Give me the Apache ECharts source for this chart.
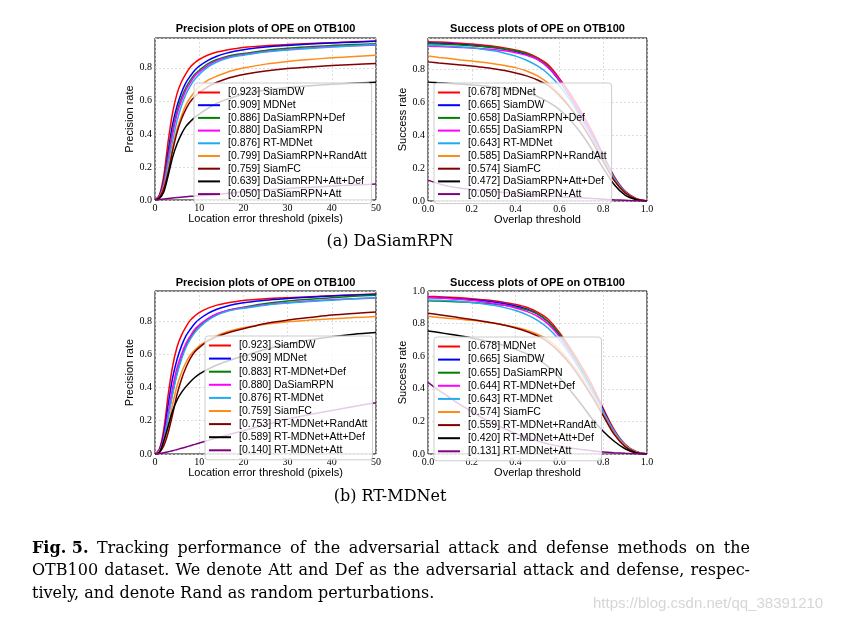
<!DOCTYPE html>
<html><head><meta charset="utf-8">
<script src="https://cdn.jsdelivr.net/npm/echarts@6/dist/echarts.min.js"></script>
<style>html,body{margin:0;padding:0;background:#fff}#c{width:848px;height:622px}</style>
</head><body><div id="c"></div>
<script>
// ---------------- DATA ----------------
// thresholds
const precThresholds = [0, 1, 2, 3, 4, 5, 6, 7, 8, 9, 10, 12, 14, 16, 18, 20, 25, 30, 35, 40, 45, 50];
const succThresholds = [0, 0.05, 0.1, 0.15, 0.2, 0.25, 0.3, 0.35, 0.4, 0.45, 0.5, 0.55, 0.6, 0.65, 0.7, 0.75, 0.8, 0.85, 0.9, 0.95, 1.0];

// legend names and scores
const precA_names = ['SiamDW', 'MDNet', 'DaSiamRPN+Def', 'DaSiamRPN', 'RT-MDNet', 'DaSiamRPN+RandAtt', 'SiamFC', 'DaSiamRPN+Att+Def', 'DaSiamRPN+Att'];
const precA_scores = [0.923, 0.909, 0.886, 0.880, 0.876, 0.799, 0.759, 0.639, 0.050];
const succA_names = ['MDNet', 'SiamDW', 'DaSiamRPN+Def', 'DaSiamRPN', 'RT-MDNet', 'DaSiamRPN+RandAtt', 'SiamFC', 'DaSiamRPN+Att+Def', 'DaSiamRPN+Att'];
const succA_scores = [0.678, 0.665, 0.658, 0.655, 0.643, 0.585, 0.574, 0.472, 0.050];
const precB_names = ['SiamDW', 'MDNet', 'RT-MDNet+Def', 'DaSiamRPN', 'RT-MDNet', 'SiamFC', 'RT-MDNet+RandAtt', 'RT-MDNet+Att+Def', 'RT-MDNet+Att'];
const precB_scores = [0.923, 0.909, 0.883, 0.880, 0.876, 0.759, 0.753, 0.589, 0.140];
const succB_names = ['MDNet', 'SiamDW', 'DaSiamRPN', 'RT-MDNet+Def', 'RT-MDNet', 'SiamFC', 'RT-MDNet+RandAtt', 'RT-MDNet+Att+Def', 'RT-MDNet+Att'];
const succB_scores = [0.678, 0.665, 0.655, 0.644, 0.643, 0.574, 0.559, 0.420, 0.131];

// precision curves (values at precThresholds)
const precSiamDW    = [0, 0.03, 0.15, 0.36, 0.53, 0.645, 0.715, 0.765, 0.805, 0.83, 0.85, 0.877, 0.895, 0.906, 0.915, 0.923, 0.933, 0.940, 0.946, 0.952, 0.957, 0.962];
const precMDNet     = [0, 0.025, 0.12, 0.30, 0.46, 0.57, 0.65, 0.71, 0.75, 0.785, 0.81, 0.845, 0.87, 0.887, 0.900, 0.909, 0.925, 0.935, 0.943, 0.950, 0.955, 0.960];
const precDaSiamRPN = [0, 0.02, 0.10, 0.25, 0.40, 0.52, 0.60, 0.665, 0.71, 0.75, 0.775, 0.815, 0.843, 0.86, 0.872, 0.880, 0.898, 0.910, 0.920, 0.928, 0.933, 0.938];
const precRTMDNet   = [0, 0.015, 0.085, 0.22, 0.36, 0.48, 0.57, 0.64, 0.69, 0.73, 0.76, 0.805, 0.835, 0.855, 0.868, 0.876, 0.895, 0.908, 0.917, 0.925, 0.933, 0.940];
const precSiamFC    = [0, 0.015, 0.07, 0.17, 0.30, 0.41, 0.49, 0.55, 0.595, 0.625, 0.65, 0.685, 0.712, 0.732, 0.747, 0.759, 0.780, 0.795, 0.805, 0.813, 0.820, 0.826];
const precA_Def     = [0, 0.02, 0.11, 0.27, 0.42, 0.54, 0.62, 0.68, 0.725, 0.76, 0.785, 0.825, 0.85, 0.867, 0.878, 0.886, 0.905, 0.918, 0.927, 0.935, 0.940, 0.945];
const precA_RandAtt = [0, 0.015, 0.075, 0.18, 0.32, 0.43, 0.51, 0.575, 0.62, 0.655, 0.685, 0.725, 0.75, 0.77, 0.786, 0.799, 0.822, 0.838, 0.850, 0.860, 0.868, 0.875];
const precA_AttDef  = [0, 0.01, 0.05, 0.15, 0.26, 0.34, 0.40, 0.445, 0.475, 0.50, 0.52, 0.555, 0.585, 0.607, 0.625, 0.639, 0.665, 0.680, 0.691, 0.700, 0.707, 0.713];
const precA_Att     = [0, 0.003, 0.006, 0.009, 0.012, 0.015, 0.017, 0.019, 0.022, 0.024, 0.026, 0.030, 0.034, 0.039, 0.044, 0.050, 0.060, 0.070, 0.077, 0.084, 0.090, 0.097];
const precB_Def     = [0, 0.015, 0.09, 0.23, 0.37, 0.49, 0.58, 0.65, 0.70, 0.74, 0.77, 0.81, 0.84, 0.86, 0.873, 0.883, 0.905, 0.920, 0.930, 0.940, 0.948, 0.955];
const precB_RandAtt = [0, 0.01, 0.05, 0.13, 0.24, 0.36, 0.45, 0.52, 0.575, 0.615, 0.64, 0.68, 0.705, 0.725, 0.74, 0.753, 0.785, 0.805, 0.820, 0.835, 0.845, 0.853];
const precB_AttDef  = [0, 0.01, 0.08, 0.17, 0.26, 0.325, 0.37, 0.405, 0.435, 0.46, 0.48, 0.51, 0.535, 0.555, 0.573, 0.589, 0.630, 0.660, 0.685, 0.705, 0.720, 0.730];
const precB_Att     = [0, 0.003, 0.008, 0.014, 0.020, 0.027, 0.034, 0.042, 0.050, 0.058, 0.066, 0.082, 0.097, 0.112, 0.126, 0.140, 0.175, 0.210, 0.237, 0.262, 0.286, 0.308];

// success curves (values at succThresholds)
const succMDNet     = [0.967, 0.965, 0.962, 0.958, 0.953, 0.947, 0.940, 0.930, 0.917, 0.900, 0.870, 0.825, 0.745, 0.650, 0.540, 0.420, 0.280, 0.150, 0.060, 0.015, 0];
const succSiamDW    = [0.960, 0.958, 0.955, 0.951, 0.946, 0.940, 0.932, 0.922, 0.908, 0.890, 0.860, 0.810, 0.730, 0.630, 0.520, 0.400, 0.270, 0.140, 0.055, 0.013, 0];
const succDaSiamRPN = [0.940, 0.938, 0.936, 0.933, 0.930, 0.925, 0.920, 0.912, 0.900, 0.885, 0.860, 0.810, 0.735, 0.635, 0.520, 0.395, 0.260, 0.135, 0.050, 0.012, 0];
const succRTMDNet   = [0.945, 0.943, 0.940, 0.936, 0.930, 0.922, 0.912, 0.898, 0.880, 0.855, 0.820, 0.770, 0.700, 0.610, 0.500, 0.385, 0.260, 0.140, 0.055, 0.013, 0];
const succSiamFC    = [0.845, 0.838, 0.832, 0.826, 0.820, 0.812, 0.803, 0.792, 0.778, 0.760, 0.735, 0.700, 0.640, 0.565, 0.470, 0.360, 0.240, 0.125, 0.050, 0.012, 0];
const succA_Def     = [0.955, 0.953, 0.950, 0.947, 0.943, 0.938, 0.932, 0.923, 0.912, 0.895, 0.865, 0.815, 0.735, 0.630, 0.510, 0.385, 0.255, 0.130, 0.050, 0.012, 0];
const succA_RandAtt = [0.880, 0.872, 0.865, 0.857, 0.850, 0.842, 0.833, 0.823, 0.810, 0.790, 0.760, 0.715, 0.650, 0.570, 0.470, 0.360, 0.240, 0.125, 0.050, 0.012, 0];
const succA_AttDef  = [0.722, 0.718, 0.714, 0.710, 0.705, 0.700, 0.693, 0.685, 0.673, 0.657, 0.635, 0.600, 0.555, 0.490, 0.410, 0.310, 0.200, 0.100, 0.035, 0.008, 0];
const succA_Att     = [0.127, 0.105, 0.088, 0.078, 0.070, 0.063, 0.057, 0.051, 0.046, 0.041, 0.036, 0.032, 0.027, 0.023, 0.019, 0.015, 0.011, 0.007, 0.004, 0.001, 0];
const succB_Def     = [0.960, 0.957, 0.953, 0.948, 0.942, 0.934, 0.924, 0.912, 0.896, 0.875, 0.845, 0.795, 0.720, 0.620, 0.505, 0.385, 0.260, 0.140, 0.055, 0.013, 0];
const succB_RandAtt = [0.864, 0.855, 0.845, 0.835, 0.825, 0.815, 0.803, 0.790, 0.773, 0.752, 0.725, 0.685, 0.625, 0.550, 0.455, 0.350, 0.235, 0.120, 0.045, 0.010, 0];
const succB_AttDef  = [0.755, 0.745, 0.735, 0.724, 0.712, 0.698, 0.683, 0.665, 0.642, 0.615, 0.580, 0.535, 0.470, 0.390, 0.305, 0.215, 0.140, 0.078, 0.032, 0.006, 0];
const succB_Att     = [0.440, 0.390, 0.345, 0.300, 0.260, 0.220, 0.185, 0.155, 0.125, 0.100, 0.080, 0.062, 0.048, 0.037, 0.028, 0.020, 0.013, 0.008, 0.004, 0.001, 0];

// texts
const panelTitles = ['Precision plots of OPE on OTB100', 'Success plots of OPE on OTB100', 'Precision plots of OPE on OTB100', 'Success plots of OPE on OTB100'];
const xAxisNames = ['Location error threshold (pixels)', 'Overlap threshold', 'Location error threshold (pixels)', 'Overlap threshold'];
const yAxisNames = ['Precision rate', 'Success rate', 'Precision rate', 'Success rate'];
const subCaptions = ['(a) DaSiamRPN', '(b) RT-MDNet'];
const captionBold = 'Fig. 5.';
const captionLines = [
  'Tracking performance of the adversarial attack and defense methods on the',
  'OTB100 dataset. We denote Att and Def as the adversarial attack and defense, respec-',
  'tively, and denote Rand as random perturbations.'
];
const watermark = 'https://blog.csdn.net/qq_38391210';

// ---------------- STYLE / LAYOUT ----------------
const palette = ['#ff0000', '#0000ff', '#008000', '#ff00ff', '#22aaee', '#ff8c1a', '#800000', '#000000', '#800080'];
const SANS = '"Liberation Sans", Arial, sans-serif';
const SERIF = '"Liberation Serif", "DejaVu Serif", serif';
const CAPSERIF = '"DejaVu Serif", serif';

const panels = [
  { names: precA_names, scores: precA_scores, x: precThresholds,
    values: [precSiamDW, precMDNet, precA_Def, precDaSiamRPN, precRTMDNet, precA_RandAtt, precSiamFC, precA_AttDef, precA_Att],
    grid: { left: 155, top: 38, width: 221, height: 162 }, xmax: 50, ymax: 0.98, prec: true,
    leg: { left: 194, top: 83, gap: 1.7 }, titleY: 29, yNameGap: 17, xNameGap: 13 },
  { names: succA_names, scores: succA_scores, x: succThresholds,
    values: [succMDNet, succSiamDW, succA_Def, succDaSiamRPN, succRTMDNet, succA_RandAtt, succSiamFC, succA_AttDef, succA_Att],
    grid: { left: 428, top: 38, width: 219, height: 163 }, xmax: 1, ymax: 0.99, prec: false,
    leg: { left: 434, top: 83, gap: 1.7 }, titleY: 29, yNameGap: 15, xNameGap: 12 },
  { names: precB_names, scores: precB_scores, x: precThresholds,
    values: [precSiamDW, precMDNet, precB_Def, precDaSiamRPN, precRTMDNet, precSiamFC, precB_RandAtt, precB_AttDef, precB_Att],
    grid: { left: 155, top: 291, width: 221, height: 163 }, xmax: 50, ymax: 0.98, prec: true,
    leg: { left: 205, top: 336, gap: 2.1 }, titleY: 283, yNameGap: 17, xNameGap: 12 },
  { names: succB_names, scores: succB_scores, x: succThresholds,
    values: [succMDNet, succSiamDW, succDaSiamRPN, succB_Def, succRTMDNet, succSiamFC, succB_RandAtt, succB_AttDef, succB_Att],
    grid: { left: 428, top: 291, width: 219, height: 163 }, xmax: 1, ymax: 1.0, prec: false,
    leg: { left: 434, top: 337, gap: 2.1 }, titleY: 283, yNameGap: 15, xNameGap: 12 }
];

const label = (n, s) => '[' + s.toFixed(3) + '] ' + n;

const grids = [], xAxes = [], yAxes = [], series = [], legends = [], graphics = [];
const splitStyle = { show: true, lineStyle: { color: '#d4d4d4', width: 0.8, type: [2, 2] } };

panels.forEach((p, i) => {
  grids.push(Object.assign({ show: true, borderColor: '#000', borderWidth: 1, backgroundColor: 'transparent', containLabel: false, outerBoundsMode: 'none' }, p.grid));
  xAxes.push({
    type: 'value', gridIndex: i, min: 0, max: p.xmax, interval: p.prec ? 10 : 0.2,
    axisLine: { show: false }, axisTick: { show: false }, splitLine: splitStyle,
    axisLabel: { margin: 3, fontFamily: SERIF, fontSize: 10, color: '#000',
      formatter: v => p.prec ? String(Math.round(v)) : v.toFixed(1) },
    name: xAxisNames[i], nameLocation: 'middle', nameGap: p.xNameGap,
    nameTextStyle: { fontFamily: SANS, fontSize: 11, color: '#000' }
  });
  yAxes.push({
    type: 'value', gridIndex: i, min: 0, max: p.ymax, interval: 0.2,
    axisLine: { show: false }, axisTick: { show: false }, splitLine: splitStyle,
    axisLabel: { margin: 3, fontFamily: SERIF, fontSize: 10, color: '#000', showMaxLabel: p.ymax >= 1,
      formatter: v => v.toFixed(1) },
    name: yAxisNames[i], nameLocation: 'middle', nameGap: p.yNameGap, nameRotate: 90,
    nameTextStyle: { fontFamily: SANS, fontSize: 11, color: '#000' }
  });
  const legData = [];
  p.names.forEach((n, k) => {
    const nm = label(n, p.scores[k]);
    legData.push({ name: nm, icon: 'rect', itemStyle: { color: palette[k] } });
    series.push({
      type: 'line', name: nm, xAxisIndex: i, yAxisIndex: i,
      data: p.x.map((t, j) => [t, p.values[k][j]]),
      showSymbol: false, symbol: 'none', smooth: 0.3,
      lineStyle: { color: palette[k], width: 1.5 }, itemStyle: { color: palette[k] },
      z: 2 + k * 0.01, silent: true, animation: false
    });
  });
  legends.push({
    show: true, orient: 'vertical', left: p.leg.left, top: p.leg.top,
    itemWidth: 22, itemHeight: 2, itemGap: p.leg.gap, icon: 'rect',
    padding: [4, 5, 4, 4], backgroundColor: 'rgba(255,255,255,0.8)',
    borderColor: '#cccccc', borderWidth: 1, borderRadius: 3, z: 10, selectedMode: false,
    textStyle: { fontFamily: SANS, fontSize: 10.5, color: '#000', lineHeight: 10, padding: [0, 0, 0, 3] },
    data: legData
  });
  graphics.push({
    type: 'text', x: p.grid.left + p.grid.width / 2, y: p.titleY, silent: true,
    style: { text: panelTitles[i], fontFamily: SANS, fontSize: 11, fontWeight: 'bold', fill: '#000',
      align: 'center', verticalAlign: 'middle', textAlign: 'center', textVerticalAlign: 'middle' }
  });
});

// sub captions
[[390, 242], [390, 497]].forEach((pos, i) => {
  graphics.push({ type: 'text', x: pos[0], y: pos[1], silent: true,
    style: { text: subCaptions[i], fontFamily: CAPSERIF, fontSize: 16, fill: '#000',
      align: 'center', verticalAlign: 'middle', textAlign: 'center', textVerticalAlign: 'middle' } });
});

// justified figure caption
const mctx = document.createElement('canvas').getContext('2d');
function tw(t, bold) { mctx.font = (bold ? 'bold ' : '') + '16px ' + CAPSERIF; return mctx.measureText(t).width; }
const capLeft = 32, capRight = 750, capYs = [549, 571, 594];
captionLines.forEach((line, li) => {
  const toks = line.split(' ').map(w => ({ t: w, b: false }));
  if (li === 0) toks.unshift({ t: captionBold, b: true });
  const widths = toks.map(o => tw(o.t, o.b));
  const total = widths.reduce((a, b) => a + b, 0);
  const justify = li < captionLines.length - 1;
  const gap = justify ? (capRight - capLeft - total) / (toks.length - 1) : tw(' ', false);
  let x = capLeft;
  toks.forEach((o, k) => {
    graphics.push({ type: 'text', x: x, y: capYs[li], silent: true,
      style: { text: o.t, fontFamily: CAPSERIF, fontSize: 16, fontWeight: o.b ? 'bold' : 'normal', fill: '#000',
        align: 'left', verticalAlign: 'middle', textAlign: 'left', textVerticalAlign: 'middle' } });
    x += widths[k] + gap;
  });
});

graphics.push({ type: 'text', x: 593, y: 604, silent: true,
  style: { text: watermark, fontFamily: SANS, fontSize: 15, fill: '#d6d6d6',
    align: 'left', verticalAlign: 'middle', textAlign: 'left', textVerticalAlign: 'middle' } });

const chart = echarts.init(document.getElementById('c'), null, { renderer: 'canvas', width: 848, height: 622 });
chart.setOption({
  animation: false,
  backgroundColor: '#ffffff',
  grid: grids, xAxis: xAxes, yAxis: yAxes, series: series, legend: legends,
  graphic: { elements: graphics }
});
</script></body></html>
